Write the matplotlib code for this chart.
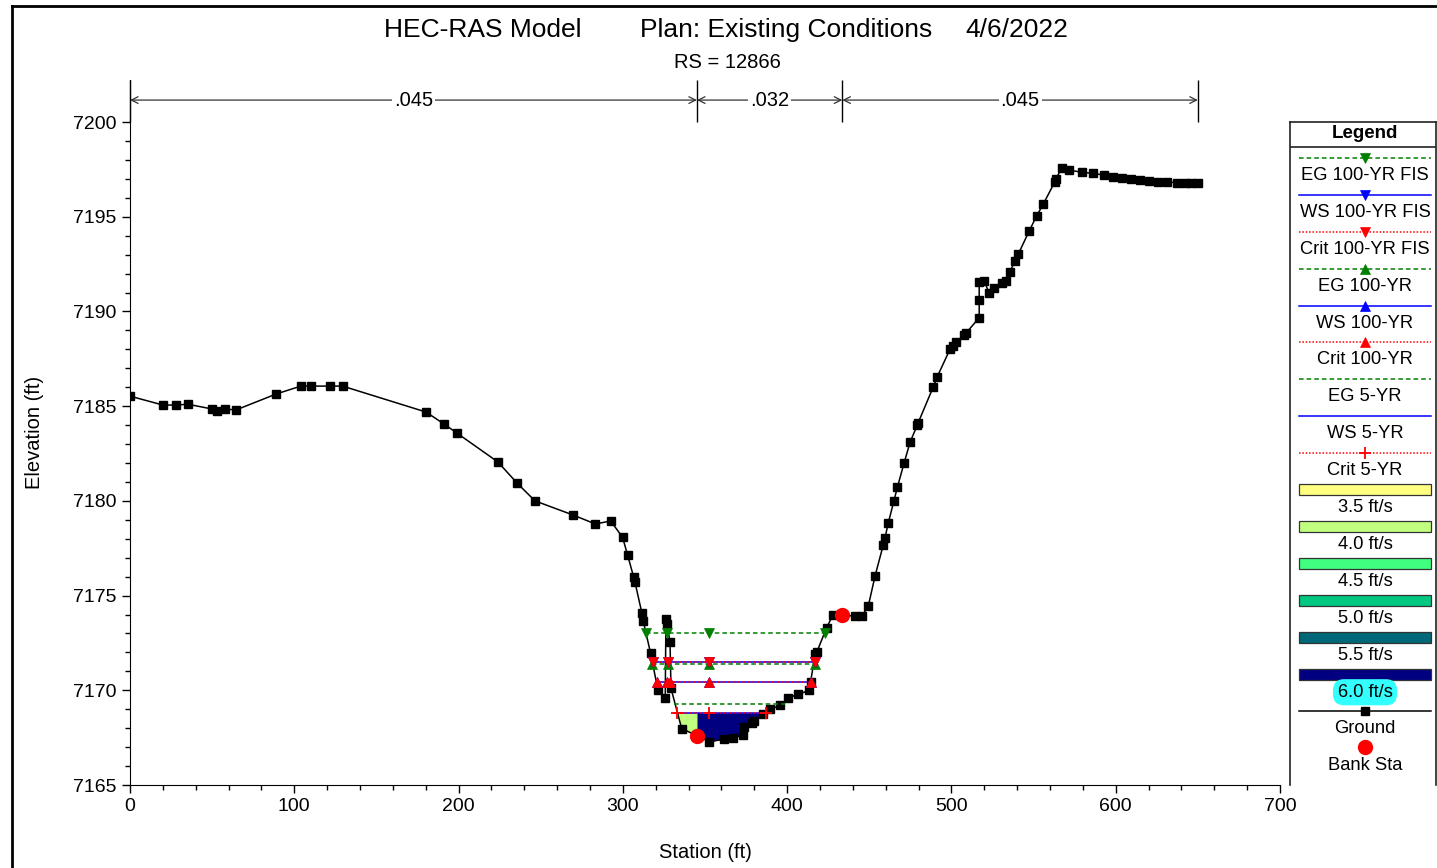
import numpy as np
import matplotlib.pyplot as plt
from matplotlib.lines import Line2D

plt.rcParams['font.family'] = ['Liberation Sans', 'DejaVu Sans']

# ground profile, RS = 12866
station = [0, 20, 28, 35.3, 50, 53, 57.8, 64.5, 88.9, 104, 110, 121.7, 129.4,
           180.2, 191.1, 199, 224, 235.6, 246.5, 269.8, 283.3, 292.6, 299.8,
           302.9, 306.5, 307.4, 311.6, 312.4, 316.9, 321.4, 325.8, 326.2,
           326.8, 328.7, 329.3, 335.8, 345.1, 352.6, 361.5, 366.8, 372.9,
           373.7, 378.4, 379.8, 385.5, 389.6, 395.7, 400.7, 406.8, 413.5,
           414.3, 417, 418, 424, 428, 433.6, 441.3, 445.4, 449.4, 453.5,
           458.5, 459.5, 461.6, 465, 467.1, 471.2, 474.8, 479.2, 479.8, 489,
           491.4, 499.1, 500.7, 502.8, 507.6, 508.8, 516.9, 516.9, 516.9, 520,
           523, 526, 530.6, 533.2, 535.6, 538.7, 540.7, 547.4, 551.9, 555.9,
           563, 563.4, 567.1, 571.5, 579.2, 586.3, 592.8, 598.5, 604, 609.5,
           615, 620.5, 626, 631.5, 637, 642, 646, 650]
elevation = [7185.53, 7185.06, 7185.06, 7185.1, 7184.85, 7184.74, 7184.85,
             7184.8, 7185.64, 7186.06, 7186.06, 7186.06, 7186.06, 7184.69,
             7184.06, 7183.58, 7182.05, 7180.94, 7180.0, 7179.25, 7178.78,
             7178.94, 7178.08, 7177.14, 7176.0, 7175.7, 7174.07, 7173.66,
             7171.95, 7170.0, 7169.6, 7173.75, 7173.5, 7172.55, 7170.1,
             7167.98, 7167.6, 7167.29, 7167.41, 7167.46, 7167.64, 7168.05,
             7168.26, 7168.38, 7168.75, 7169.0, 7169.2, 7169.6, 7169.79,
             7170.0, 7170.45, 7171.9, 7172.0, 7173.3, 7174.0, 7174.0, 7173.9,
             7173.9, 7174.45, 7176.03, 7177.67, 7178.02, 7178.85, 7180.0,
             7180.72, 7182.0, 7183.09, 7184.0, 7184.13, 7186.03, 7186.56,
             7188.0, 7188.18, 7188.37, 7188.76, 7188.85, 7189.67, 7190.6,
             7191.57, 7191.6, 7190.96, 7191.22, 7191.48, 7191.6, 7192.1,
             7192.66, 7193.03, 7194.26, 7195.05, 7195.67, 7196.85, 7196.97,
             7197.56, 7197.47, 7197.35, 7197.29, 7197.2, 7197.1, 7197.03,
             7196.98, 7196.93, 7196.89, 7196.86, 7196.83, 7196.8, 7196.78,
             7196.77, 7196.76]

bank_sta = [345.1, 433.6]
bank_elev = [7167.6, 7174.0]

n_breaks = [0, 345.1, 433.6, 650]
n_values = ['.045', '.032', '.045']

wse_names = ['EG 100-YR FIS', 'WS 100-YR FIS', 'Crit 100-YR FIS',
             'EG 100-YR', 'WS 100-YR', 'Crit 100-YR',
             'EG 5-YR', 'WS 5-YR', 'Crit 5-YR']
wse_elev = [7173.0, 7171.5, 7171.5, 7171.38, 7170.45, 7170.45,
            7169.3, 7168.82, 7168.82]
wse_left = [314.1, 318.2, 318.2, 318.0, 320.5, 320.5, 331.1, 332.0, 330.5]
wse_right = [423.0, 416.9, 416.9, 417.0, 414.3, 414.3, 398.7, 387.5, 387.5]
wse_marks = [[314.1, 326.6, 352.6, 423.0],
             [318.2, 327.2, 352.6, 416.9],
             [318.2, 327.2, 352.6, 416.9],
             [318.0, 327.2, 352.6, 417.0],
             [320.5, 326.6, 328.7, 352.6, 414.3],
             [320.5, 326.6, 328.7, 352.6, 414.3],
             [],
             [],
             [332.7, 352.6, 387.1]]

vel_labels = ['3.5 ft/s', '4.0 ft/s', '4.5 ft/s', '5.0 ft/s', '5.5 ft/s', '6.0 ft/s']
# velocity slices of the 5-YR flow area
slice_edges = [330.0, 345.1, 390.0]
slice_vel_idx = [1, 5]

# styles
wse_color = ['#008000', '#0000ff', '#ff0000'] * 3
wse_ls = [(0, (3, 2)), '-', (0, (1, 1.2))] * 3
wse_marker = ['v'] * 3 + ['^'] * 3 + [None, None, '+']
vel_colors = ['#ffff80', '#c0ff80', '#40ff80', '#00c880', '#006878', '#000080']

W, H = 1437, 868
fig = plt.figure(figsize=(W / 100, H / 100), dpi=100)
ax = fig.add_axes([130 / W, 83 / H, 1150 / W, 705 / H])

# velocity fill
for k, vi in enumerate(slice_vel_idx):
    xs = np.linspace(slice_edges[k], slice_edges[k + 1], 300)
    g = np.interp(xs, station, elevation)
    ws = wse_elev[7]
    ax.fill_between(xs, g, ws, where=g < ws, color=vel_colors[vi], lw=0, zorder=1)

# water surfaces: EG first, then WS, then Crit
for grp in (0, 1, 2):
    for i in range(grp, 9, 3):
        ax.plot([wse_left[i], wse_right[i]], [wse_elev[i]] * 2, color=wse_color[i],
                ls=wse_ls[i], lw=1.1, zorder=3 + grp * 0.1)
        if wse_marker[i] and wse_marks[i]:
            ax.plot(wse_marks[i], [wse_elev[i]] * len(wse_marks[i]), ls='none',
                    marker=wse_marker[i], ms=7 if wse_marker[i] != '+' else 9,
                    mew=1.3 if wse_marker[i] == '+' else 0.5,
                    color=wse_color[i], zorder=3.5 + grp * 0.1)

ax.plot(station, elevation, color='black', lw=1.1, marker='s', ms=6, zorder=2.5)
ax.plot(bank_sta, bank_elev, ls='none', marker='o', ms=10, color='#ff0000', zorder=5)

ax.set_xlim(0, 700)
ax.set_ylim(7165, 7202.22)
ax.set_xticks(np.arange(0, 701, 100))
ax.set_xticks(np.arange(0, 701, 20), minor=True)
ax.set_yticks(np.arange(7165, 7201, 5))
ax.set_yticks(np.arange(7165, 7201, 1), minor=True)
ax.tick_params(labelsize=14, direction='out', length=6, width=1)
ax.tick_params(which='minor', length=3.5, width=1)
for s in ('top', 'right'):
    ax.spines[s].set_visible(False)
ax.set_xlabel('Station (ft)', fontsize=14.5, labelpad=20)
ax.set_ylabel('Elevation (ft)', fontsize=14.5, labelpad=21)

# Manning's n annotations
ax.vlines(n_breaks, 7200, 7202.22, color='black', lw=1, clip_on=False)
for k, nv in enumerate(n_values):
    a, b = n_breaks[k], n_breaks[k + 1]
    ax.annotate('', xy=(a, 7201.16), xytext=(b, 7201.16),
                arrowprops=dict(arrowstyle='<->', lw=0.9, color='#333333',
                                shrinkA=0, shrinkB=0, mutation_scale=12),
                annotation_clip=False)
    ax.text((a + b) / 2, 7201.16, nv, ha='center', va='center', fontsize=14.5,
            bbox=dict(facecolor='white', edgecolor='none', pad=1.5), clip_on=False)

# titles
fig.text(483 / W, 1 - 30 / H, 'HEC-RAS Model', ha='center', va='center', fontsize=19)
fig.text(786 / W, 1 - 30 / H, 'Plan: Existing Conditions', ha='center', va='center', fontsize=19)
fig.text(1017 / W, 1 - 30 / H, '4/6/2022', ha='center', va='center', fontsize=19)
fig.text(727 / W, 1 - 62 / H, 'RS = 12866', ha='center', va='center', fontsize=14.5)

# window frame
fig.add_artist(Line2D([12 / W, 1], [1 - 6 / H] * 2, color='black', lw=2))
fig.add_artist(Line2D([12 / W] * 2, [0, 1 - 6 / H], color='black', lw=2))

# legend panel, in pixel units
lg = fig.add_axes([1290 / W, 83 / H, 146 / W, 663 / H])
lg.set_xlim(1290, 1436)
lg.set_ylim(785, 122)
lg.set_xticks([])
lg.set_yticks([])
for s in lg.spines.values():
    s.set_linewidth(1.2)
    s.set_color('#222222')
lg.spines['bottom'].set_visible(False)
lg.text(1365, 133, 'Legend', ha='center', va='center', fontsize=13.5, fontweight='bold')
lg.plot([1290, 1436], [147, 147], color='#222222', lw=1.2)

fs = 13.2
for i, name in enumerate(wse_names):
    yl = 158.3 + i * 36.8
    lg.plot([1299, 1431], [yl, yl], color=wse_color[i], ls=wse_ls[i], lw=1.1)
    if wse_marker[i]:
        lg.plot([1365], [yl], marker=wse_marker[i], color=wse_color[i],
                ms=7 if wse_marker[i] != '+' else 9,
                mew=1.3 if wse_marker[i] == '+' else 0.5)
    lg.text(1365, yl + 17.5, name, ha='center', va='center', fontsize=fs)

for i, lab in enumerate(vel_labels):
    yc = 489.5 + i * 37.05
    lg.add_patch(plt.Rectangle((1299, yc - 5.5), 132, 11, facecolor=vel_colors[i],
                               edgecolor='#333333', lw=0.9))
    if i == 5:
        lg.text(1365, yc + 17.5, lab, ha='center', va='center', fontsize=fs,
                bbox=dict(boxstyle='round,pad=0.25,rounding_size=0.6',
                          facecolor='#33ffff', edgecolor='none'))
    else:
        lg.text(1365, yc + 17.5, lab, ha='center', va='center', fontsize=fs)

lg.plot([1299, 1431], [710.7, 710.7], color='black', lw=1.1)
lg.plot([1365], [710.7], marker='s', color='black', ms=6)
lg.text(1365, 728.5, 'Ground', ha='center', va='center', fontsize=fs)
lg.plot([1365], [746.7], marker='o', color='#ff0000', ms=10)
lg.text(1365, 765.5, 'Bank Sta', ha='center', va='center', fontsize=fs)

fig.savefig('out.png', dpi=100)
